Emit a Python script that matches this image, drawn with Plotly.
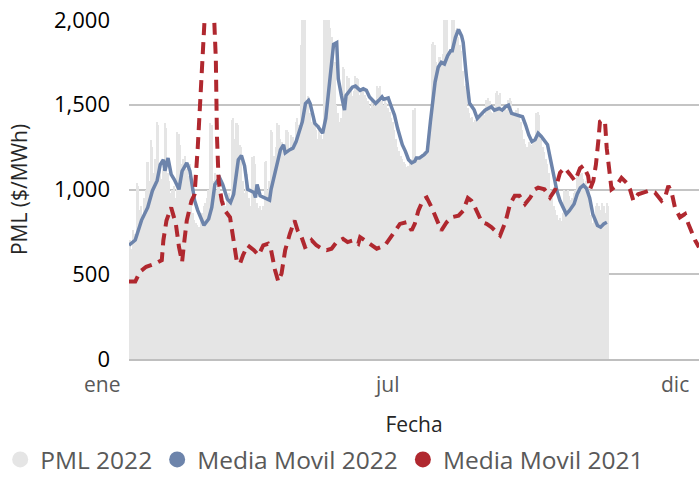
import plotly.graph_objects as go

# PML diario 2022 ($/MWh), dia 0 = 1 de enero
pml_2022 = [
    620, 700, 650, 760, 740, 1040, 1020, 880, 900, 850,
    950, 1000, 1160, 1050, 1290, 1250, 1100, 1180, 1400, 1380,
    1150, 1060, 1120, 1390, 1360, 1100, 1050, 980, 1000, 1020,
    950, 1340, 1330, 1260, 1150, 1180, 1200, 1120, 1080, 1150,
    900, 860, 820, 800, 790, 780, 830, 860, 900, 920,
    950, 1000, 1390, 1380, 1050, 1100, 1000, 1060, 1020, 980,
    950, 930, 900, 960, 980, 920, 1410, 1420, 1300, 1390,
    1380, 1260, 1250, 1050, 980, 1100, 1090, 950, 900, 1190,
    1200, 1150, 920, 890, 900, 880, 900, 1160, 1170, 1000,
    1050, 1350, 1340, 1200, 1250, 1390, 1380, 1300, 1280, 1200,
    1230, 1350, 1340, 1220, 1320, 1310, 1250, 1400, 1420, 1380,
    1850, 2050, 2100, 2080, 1500, 1550, 1450, 1400, 1420, 1380,
    1350, 1300, 1380, 1320, 1300, 2050, 2100, 2080, 2100, 1950,
    1900, 1850, 1750, 1500, 1450, 1400, 1420, 1720, 1710, 1500,
    1670, 1660, 1600, 1550, 1580, 1670, 1660, 1650, 1560, 1580,
    1590, 1560, 1540, 1520, 1500, 1480, 1520, 1490, 1500, 1610,
    1600, 1610, 1520, 1500, 1530, 1510, 1480, 1460, 1420, 1400,
    1350, 1300, 1250, 1230, 1200, 1180, 1160, 1150, 1130, 1140,
    1160, 1180, 1470, 1480, 1200, 1180, 1190, 1200, 1210, 1220,
    1230, 1250, 1300, 1400, 1860, 1870, 1850, 1750, 1720, 1780,
    1760, 1800, 2050, 2100, 2050, 1820, 1830, 2050, 2100, 1940,
    1950, 1900, 1850, 1820, 1700, 1610, 1620, 1480, 1450, 1420,
    1430, 1400, 1410, 1430, 1420, 1440, 1460, 1450, 1440, 1530,
    1540, 1520, 1460, 1450, 1470, 1570, 1580, 1560, 1570, 1470,
    1460, 1480, 1470, 1530, 1540, 1520, 1450, 1440, 1470, 1480,
    1440, 1400, 1350, 1300, 1270, 1250, 1280, 1270, 1260, 1290,
    1300, 1450, 1460, 1440, 1300, 1250, 1220, 1180, 1150, 1100,
    1000, 950, 900, 880, 850, 820, 830, 817, 860, 1000,
    990, 1000, 960, 940, 950, 980, 1000, 1100, 1110, 1090,
    1100, 1060, 1040, 1050, 1020, 1000, 850, 800, 820, 900,
    920, 900, 880, 920, 900, 860, 920, 900,
]
dias_pml = list(range(len(pml_2022)))

# Media movil 2022
dias_mm2022 = [
    0, 4, 8, 12, 15, 18, 20, 22, 23, 25, 27, 29, 32, 34, 37, 39, 42, 44, 48, 51,
    53, 55, 58, 60, 63, 65, 67, 70, 72, 74, 76, 80, 81, 82, 84, 86, 90, 91, 94, 97,
    99, 100, 103, 105, 107, 109, 111, 113, 115, 116, 118, 119, 121, 124, 126, 129, 131, 133, 134, 136,
    138, 139, 143, 145, 148, 150, 152, 154, 158, 160, 162, 163, 166, 168, 170, 172, 175, 177, 179, 181,
    183, 184, 186, 189, 191, 193, 196, 198, 200, 202, 204, 206, 207, 209, 211, 213, 214, 216, 218, 221,
    223, 225, 228, 232, 234, 237, 239, 241, 243, 245, 248, 252, 254, 256, 258, 260, 262, 264, 268, 270,
    272, 274, 276, 278, 280, 282, 285, 287, 289, 291, 293, 295, 297, 300, 302, 304, 306,
]
mm_2022 = [
    671, 702, 818, 894, 993, 1052, 1147, 1176, 1110, 1186, 1089, 1059, 1001, 1108, 1157, 1110, 935, 877, 789, 826,
    894, 1030, 1069, 1030, 943, 923, 972, 1176, 1200, 1140, 1001, 982, 953, 1030, 963, 953, 937, 1001, 1128, 1235,
    1264, 1215, 1235, 1244, 1283, 1342, 1400, 1507, 1526, 1507, 1429, 1390, 1371, 1332, 1419, 1672, 1857, 1867, 1653, 1555,
    1468, 1555, 1604, 1610, 1585, 1594, 1585, 1546, 1507, 1526, 1546, 1532, 1540, 1488, 1439, 1361, 1264, 1225, 1176, 1157,
    1167, 1186, 1186, 1205, 1225, 1400, 1634, 1721, 1750, 1740, 1789, 1818, 1818, 1896, 1944, 1905, 1867, 1672, 1510, 1470,
    1419, 1439, 1468, 1488, 1468, 1478, 1468, 1488, 1497, 1449, 1439, 1429, 1380, 1322, 1283, 1293, 1332, 1313, 1264, 1167,
    1069, 992, 933, 894, 855, 875, 914, 972, 1010, 1025, 1005, 950, 855, 788, 778, 797, 807,
]

# Media movil 2021
dias_mm2021 = [
    0, 4, 7, 11, 17, 21, 22, 24, 27, 30, 32, 34, 35, 37, 40, 42, 44, 46, 47.6, 49,
    51, 53, 55, 55.6, 56.3, 57.4, 59.4, 61.5, 64.7, 66.8, 68.9, 71, 73, 76, 80, 83, 86, 89, 91, 93.5,
    95.6, 97.7, 100, 103, 106, 108, 110.5, 112.7, 115, 117, 120, 123.4, 126.6, 129.7, 133, 137, 140, 143.6, 146.8, 148,
    151, 154, 158.6, 164, 167, 170, 173.5, 177.8, 181, 183, 185.3, 188.5, 190.6, 193.8, 197, 200, 203.4, 206.6, 211, 214,
    217, 219.3, 221.6, 226, 229, 232, 237.6, 241, 244, 247, 250, 253.6, 257, 260, 262, 266, 269.6, 273, 276, 279,
    282.4, 285.6, 288.8, 291, 294, 295.2, 297.3, 299, 300.5, 301.6, 303.3, 304.8, 305.9, 307.5, 309, 312, 315.4, 318.6, 320.8, 323,
    326, 329.3, 332.5, 336.8, 341, 343.2, 345.4, 347.5, 349.6, 352.8, 356, 358.2, 360.4, 362.5, 365,
]
mm_2021 = [
    457, 457, 515, 544, 564, 583, 700, 817, 894, 797, 661, 573, 661, 817, 933, 972, 1244, 1575, 1867, 2150,
    2450, 2350, 1950, 1770, 1322, 1050, 933, 875, 836, 700, 583, 560, 612, 671, 642, 612, 671, 680, 642, 525,
    457, 505, 642, 739, 817, 758, 719, 661, 671, 700, 671, 651, 642, 651, 690, 709, 690, 700, 680, 719,
    700, 680, 651, 671, 709, 749, 797, 807, 758, 797, 875, 943, 953, 894, 817, 758, 807, 836, 846, 875,
    950, 933, 894, 807, 797, 778, 729, 807, 914, 963, 963, 914, 953, 1001, 1011, 1001, 953, 1001, 1099, 1128,
    1089, 1050, 1125, 1140, 1080, 1001, 1050, 1147, 1283, 1400, 1410, 1400, 1244, 1128, 1001, 1021, 1069, 1040, 1001, 933,
    972, 982, 992, 982, 933, 953, 1021, 982, 894, 836, 855, 797, 739, 700, 660,
]

# etiquetas del eje de fechas (posicion en dias)
DIAS_EJE = 365
meses_pos = [-17.3, 164.6, 349.6]
meses_txt = ['ene', 'jul', 'dic']

GRIS = '#e5e5e5'
AZUL = '#6d84ab'
ROJO = '#b0282f'
FUENTE = 'Open Sans'

fig = go.Figure()

fig.add_trace(go.Bar(x=dias_pml, y=pml_2022, marker=dict(color=GRIS, line=dict(width=0)),
                     showlegend=False))
fig.add_trace(go.Scatter(x=dias_mm2022, y=mm_2022, mode='lines',
                         line=dict(color=AZUL, width=3.5), showlegend=False))
fig.add_trace(go.Scatter(x=dias_mm2021, y=mm_2021, mode='lines',
                         line=dict(color=ROJO, width=4, dash='12px,7px'), showlegend=False))

# entradas de leyenda con circulos
for nombre, color in [('PML 2022', GRIS), ('Media Movil 2022', AZUL), ('Media Movil 2021', ROJO)]:
    fig.add_trace(go.Scatter(x=[None], y=[None], mode='markers', name=nombre,
                             marker=dict(symbol='circle', size=20, color=color)))

# "ene" queda a la izquierda del area de trazado, asi que se usan coordenadas de papel
for pos, txt in zip(meses_pos, meses_txt):
    fig.add_annotation(x=pos / DIAS_EJE, y=-0.075, xref='paper', yref='paper', text=txt,
                       showarrow=False, xanchor='center', yanchor='middle',
                       font=dict(family=FUENTE, size=21, color='#595959'))

fig.update_layout(
    width=699, height=482,
    margin=dict(l=129, r=0, t=20, b=119),
    plot_bgcolor='white', paper_bgcolor='white',
    bargap=0,
    font=dict(family=FUENTE, size=21, color='#000000'),
    xaxis=dict(range=[0, DIAS_EJE], showticklabels=False, showgrid=False, zeroline=False,
               showline=True, linecolor='#bfbfbf', linewidth=1.5, automargin=False,
               title=dict(text='Fecha', standoff=58,
                          font=dict(family=FUENTE, size=21, color='#262626'))),
    yaxis=dict(range=[0, 2000], tickvals=[0, 500, 1000, 1500, 2000], tickformat=',',
               showgrid=True, gridcolor='#c4c4c4', gridwidth=1.5, zeroline=False,
               ticklabelstandoff=18, automargin=True,
               tickfont=dict(family=FUENTE, size=22, color='#000000'),
               title=dict(text='PML ($/MWh)', standoff=20,
                          font=dict(family=FUENTE, size=21, color='#262626'))),
    legend=dict(orientation='h', x=-0.226, xanchor='left', y=-0.297, yanchor='middle',
                font=dict(family=FUENTE, size=24.5, color='#595959'),
                itemwidth=30, tracegroupgap=0),
    showlegend=True,
)

# sin el margen por defecto del body, para que la figura quede en la esquina
fig.write_html("out.html", config={'displayModeBar': False},
               post_script="document.body.style.margin = '0px';")
